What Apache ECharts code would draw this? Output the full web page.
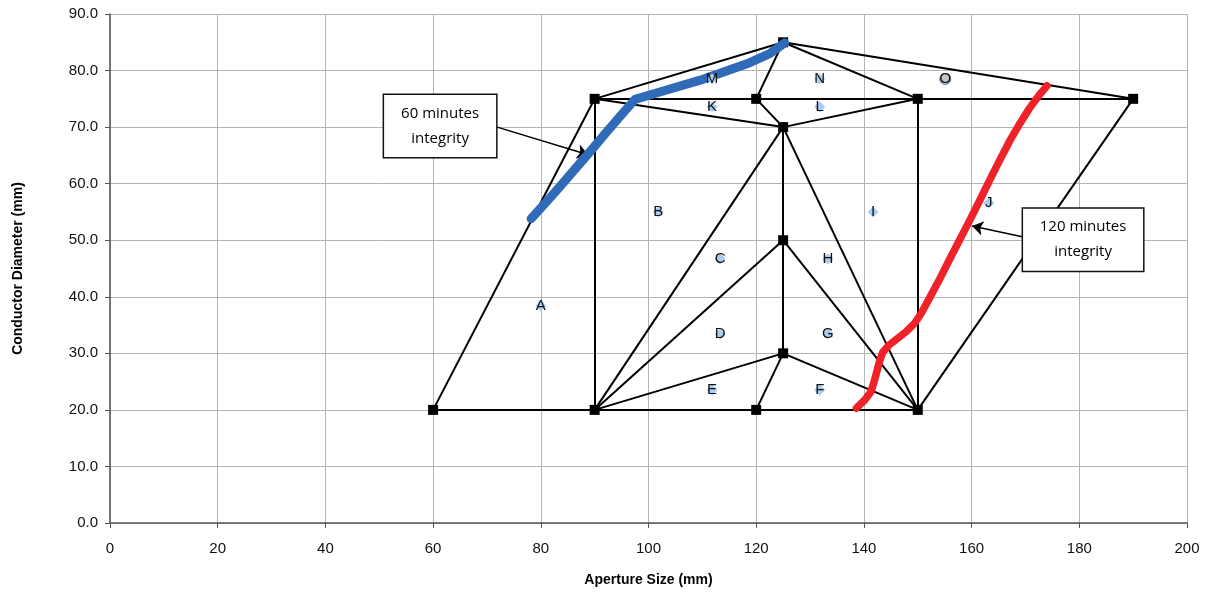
<!DOCTYPE html>
<html>
<head>
<meta charset="utf-8">
<script src="https://cdn.jsdelivr.net/npm/echarts@6/dist/echarts.min.js"></script>
<style>
  html, body { margin: 0; padding: 0; background: #fff; }
  #main { width: 1216px; height: 597px; }
</style>
</head>
<body>
<div id="main"></div>
<script>
// mesh nodes (aperture, diameter)
var nodes = [
  [60, 20], [90, 20], [120, 20], [150, 20],
  [125, 30], [125, 50], [125, 70],
  [90, 75], [120, 75], [150, 75], [190, 75],
  [125, 85]
];
// edges as node index pairs
var edges = [
  [0, 3], [0, 7], [1, 7], [7, 10], [7, 11], [7, 6],
  [6, 9], [8, 6], [8, 11], [11, 9], [11, 10],
  [6, 4], [1, 6], [1, 5], [1, 4], [4, 2], [4, 3],
  [5, 3], [6, 3], [3, 9], [3, 10]
];
// region labels
var regionNames = ["A", "B", "C", "D", "E", "F", "G", "H", "I", "J", "K", "L", "M", "N", "O"];
var regionPos = [
  [80, 38.4], [101.8, 55], [113.3, 46.7], [113.3, 33.4], [111.8, 23.5],
  [131.8, 23.5], [133.3, 33.4], [133.3, 46.7], [141.7, 55], [163.2, 56.6],
  [111.8, 73.6], [131.8, 73.6], [111.8, 78.5], [131.8, 78.5], [155.1, 78.5]
];
// integrity curves
var line60 = [
  [78.2, 53.8], [80, 55.7], [83, 58.9], [86, 62.2], [89.1, 65.6],
  [92, 68.9], [95, 72.2], [97.5, 74.9], [102.1, 76.2], [109.6, 78.3],
  [118.8, 81.4], [122.5, 83.0], [125.3, 84.9]
];
var line120 = [
  [138.6, 20.3], [140.2, 21.8], [141.3, 23.2], [141.9, 25.0], [142.4, 26.8],
  [142.9, 28.6], [143.5, 30.2], [144.6, 31.4], [146.2, 32.6], [147.8, 33.8],
  [149.4, 35.3], [150.6, 37.0], [152.2, 39.8], [154.0, 43.0], [155.9, 46.6],
  [157.8, 50.1], [159.7, 53.6], [161.6, 57.2], [163.4, 60.7], [165.3, 64.3],
  [167.1, 67.6], [169.0, 70.7], [170.8, 73.4], [172.5, 75.6], [174.0, 77.3]
];
// annotation boxes and arrows
var notes = ["60 minutes\nintegrity", "120 minutes\nintegrity"];
var notePos = [[61.3, 70.2], [180.7, 50.1]];
var arrows = [
  [[71.9, 70.0], [88.8, 65.1]],
  [[169.4, 50.6], [160.1, 52.5]]
];

var edgeData = edges.map(function (e) {
  return { coords: [nodes[e[0]], nodes[e[1]]] };
});
var regionData = regionPos.map(function (p, i) {
  var d = { value: p, name: regionNames[i] };
  if (regionNames[i] === "O") {
    d.symbol = "circle";
    d.symbolSize = 11;
    d.itemStyle = { color: "#c8c8c8", borderColor: "#5b7fa8", borderWidth: 1, opacity: 1 };
  }
  return d;
});
var noteData = notePos.map(function (p, i) {
  return { value: p, name: notes[i], label: { width: i === 0 ? 112 : 120 } };
});
var arrowData = arrows.map(function (a) {
  return [{ coord: a[0] }, { coord: a[1] }];
});

var chart = echarts.init(document.getElementById("main"));
chart.setOption({
  animation: false,
  grid: { left: 110, right: 29, top: 14, bottom: 74 },
  xAxis: {
    type: "value", min: 0, max: 200, interval: 20,
    name: "Aperture Size (mm)", nameLocation: "middle", nameGap: 50,
    nameTextStyle: { fontFamily: "Liberation Sans", fontWeight: "bold", fontSize: 14, color: "#000" },
    axisLine: { lineStyle: { color: "#555", width: 1.5 } },
    axisTick: { show: true, length: 5, lineStyle: { color: "#555" } },
    axisLabel: { fontFamily: "Liberation Sans", fontSize: 15, color: "#111", margin: 18 },
    splitLine: { show: true, lineStyle: { color: "#b4b4b4", width: 1 } }
  },
  yAxis: {
    type: "value", min: 0, max: 90, interval: 10,
    name: "Conductor Diameter (mm)", nameLocation: "middle", nameGap: 85, nameRotate: 90,
    nameTextStyle: { fontFamily: "Liberation Sans", fontWeight: "bold", fontSize: 14, color: "#000" },
    axisLine: { show: true, lineStyle: { color: "#555", width: 1.5 } },
    axisTick: { show: true, length: 5, lineStyle: { color: "#555" } },
    axisLabel: {
      fontFamily: "Liberation Sans", fontSize: 15, color: "#111", margin: 12,
      formatter: function (v) { return v.toFixed(1); }
    },
    splitLine: { show: true, lineStyle: { color: "#b4b4b4", width: 1 } }
  },
  series: [
    {
      type: "lines", coordinateSystem: "cartesian2d", polyline: false,
      data: edgeData, z: 2,
      lineStyle: { color: "#000", width: 2, opacity: 1 }
    },
    {
      type: "scatter", data: nodes, symbol: "rect", symbolSize: 10, z: 3,
      itemStyle: { color: "#000", opacity: 1 }
    },
    {
      type: "line", data: line60, smooth: false, symbol: "none", z: 5,
      lineStyle: { color: "#2f6bb8", width: 9, cap: "round", join: "round" }
    },
    {
      type: "line", data: line120, smooth: false, symbol: "none", z: 5,
      lineStyle: { color: "#ee2228", width: 7.5, cap: "round", join: "round" }
    },
    {
      type: "scatter", data: regionData, symbol: "diamond", symbolSize: 11, z: 7,
      itemStyle: { color: "#a9cdee", opacity: 1 },
      label: {
        show: true, position: "inside", formatter: "{b}",
        fontFamily: "Liberation Sans", fontSize: 15, color: "#111"
      }
    },
    {
      type: "scatter", data: noteData, symbolSize: 0, z: 8,
      itemStyle: { opacity: 1 },
      label: {
        show: true, position: "inside", formatter: "{b}",
        fontFamily: "Open Sans", fontSize: 15, lineHeight: 25, color: "#000",
        align: "center", verticalAlign: "middle",
        backgroundColor: "#fff", borderColor: "#111", borderWidth: 1.5,
        padding: [6, 0, 6, 0]
      },
      markLine: {
        silent: true, symbol: ["none", "arrow"], symbolSize: 11,
        lineStyle: { color: "#000", width: 1.5, type: "solid", opacity: 1 },
        label: { show: false },
        data: arrowData
      }
    }
  ]
});
</script>
</body>
</html>
